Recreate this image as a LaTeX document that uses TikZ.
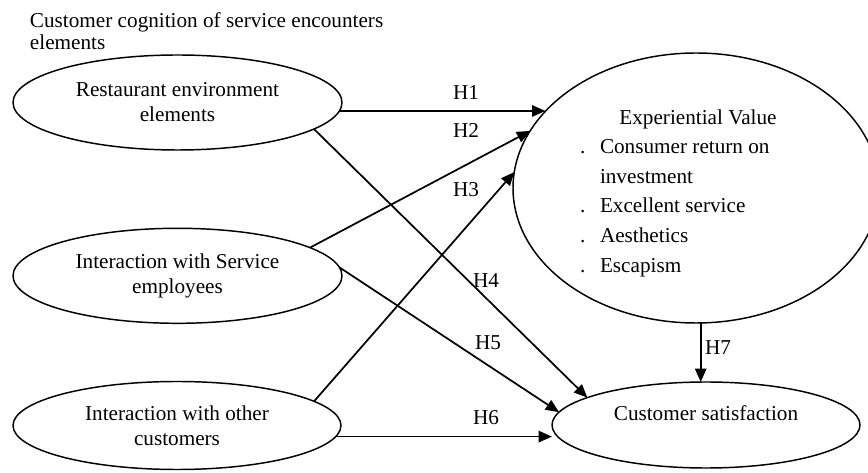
\documentclass[tikz,border=0pt]{standalone}
\usepackage{fontspec}
\setmainfont{Liberation Serif}
\usetikzlibrary{shapes.geometric,arrows.meta}
\begin{document}
\begin{tikzpicture}[x=0.75pt,y=-0.75pt,
  font=\fontsize{15.9}{18.75}\selectfont,
  oval/.style={draw, ellipse, line width=1.1pt, inner sep=0pt, outer sep=0pt, align=center},
  txt/.style={inner sep=0pt, outer sep=0pt},
  hyp/.style={draw, line width=1.3pt, -{Triangle[length=10pt,width=8.5pt]}}]
\useasboundingbox (0,0) rectangle (868,473);
\clip (0,0) rectangle (868,473);

% title
\node[txt, anchor=base west] (t1) at (30,28) {Customer cognition of service encounters};
\node[txt, anchor=base west] (t2) at (30,50) {elements};

% left ovals
\node[oval, minimum width=246.75pt, minimum height=71.25pt] (e1) at (177.5,102.5) {Restaurant environment\\elements};
\node[oval, minimum width=246.75pt, minimum height=71.25pt] (e2) at (177.5,275.8) {Interaction with Service\\employees};
\node[oval, minimum width=246pt, minimum height=66pt] (e3) at (177,425.5) {Interaction with other\\customers};

% experiential value
\node[oval, minimum width=274.5pt, minimum height=202.5pt] (ev) at (696,188) {};
\node[txt, anchor=base] (evt) at (698,125) {Experiential Value};
\node[txt, anchor=base west] (b1) at (580,154) {.};
\node[txt, anchor=base west] (l1) at (600,154) {Consumer return on};
\node[txt, anchor=base west] (l1b) at (600,184) {investment};
\node[txt, anchor=base west] (b2) at (580,213) {.};
\node[txt, anchor=base west] (l2) at (600,213) {Excellent service};
\node[txt, anchor=base west] (b3) at (580,243) {.};
\node[txt, anchor=base west] (l3) at (600,243) {Aesthetics};
\node[txt, anchor=base west] (b4) at (580,273) {.};
\node[txt, anchor=base west] (l4) at (600,273) {Escapism};

% customer satisfaction
\node[oval, minimum width=231pt, minimum height=64.5pt] (cs) at (706,425) {};
\node[txt, anchor=base] (cst) at (706,421) {Customer satisfaction};

% hypotheses
\draw[hyp] (e1.-3.37) -- (e1.-3.37 -| ev.153.3);
\draw[hyp] (e2.12) -- (ev.161.5);
\draw[hyp] (e3.10) -- (ev.175);
\draw[hyp] (e1.-11.2) -- (cs.167.4);
\draw[hyp] (e2.3.1) -- (cs.175.5);
\draw[hyp] (e3.-4.55) -- (e3.-4.55 -| cs.west);
\draw[hyp] (ev.-88) -- (ev.-88 |- cs.north);

% labels
\node[txt, anchor=base west] (h1) at (453,100) {H1};
\node[txt, anchor=base west] (h2) at (453,138) {H2};
\node[txt, anchor=base west] (h3) at (453,197) {H3};
\node[txt, anchor=base west] (h4) at (473,288) {H4};
\node[txt, anchor=base west] (h5) at (475,350) {H5};
\node[txt, anchor=base west] (h6) at (473,425) {H6};
\node[txt, anchor=base west] (h7) at (705,355) {H7};
\end{tikzpicture}
\end{document}
